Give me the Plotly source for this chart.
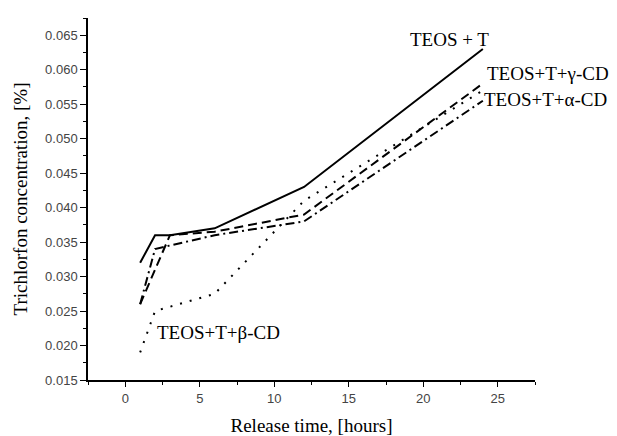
import plotly.graph_objects as go

# Release time, hours
hours_t = [1, 2, 3, 6, 12, 24]
hours_g = [1, 3, 6, 12, 24]
hours_a = [1, 2, 6, 12, 24]
hours_b = [1, 2, 6, 12, 24]

# Trichlorfon concentration, %
conc_teos_t = [0.032, 0.036, 0.036, 0.037, 0.043, 0.063]
conc_gamma = [0.026, 0.036, 0.0365, 0.039, 0.058]
conc_alpha = [0.026, 0.034, 0.036, 0.038, 0.0555]
conc_beta = [0.019, 0.025, 0.0275, 0.041, 0.057]

y_ticks = [0.015, 0.020, 0.025, 0.030, 0.035, 0.040, 0.045, 0.050, 0.055, 0.060, 0.065]
x_ticks = [0, 5, 10, 15, 20, 25]

serif = "Liberation Serif, Times New Roman, serif"
sans = "Liberation Sans, Arial, sans-serif"

fig = go.Figure()
fig.add_trace(go.Scatter(x=hours_t, y=conc_teos_t, mode="lines",
                         line=dict(color="black", width=2, dash="solid")))
fig.add_trace(go.Scatter(x=hours_g, y=conc_gamma, mode="lines",
                         line=dict(color="black", width=2, dash="9px,5px")))
fig.add_trace(go.Scatter(x=hours_a, y=conc_alpha, mode="lines",
                         line=dict(color="black", width=2, dash="9px,4px,2px,4px")))
fig.add_trace(go.Scatter(x=hours_b, y=conc_beta, mode="lines",
                         line=dict(color="black", width=2, dash="2px,8px")))

labels = [
    ("TEOS + T", 408, 40),
    ("TEOS+T+γ-CD", 485, 73),
    ("TEOS+T+α-CD", 482, 99),
    ("TEOS+T+β-CD", 155, 332),
]
for text, px, py in labels:
    fig.add_annotation(text=text, xref="paper", yref="paper",
                       x=(px - 88) / (617 - 88 - 82), y=1 - (py - 18) / (436 - 18 - 56),
                       xanchor="left", yanchor="middle", showarrow=False,
                       font=dict(family=serif, size=19, color="black"))

fig.update_xaxes(range=[-2.5, 27.5], tickvals=x_ticks, ticks="outside", ticklen=5,
                 tickwidth=1, tickcolor="black", showline=True, linecolor="black",
                 linewidth=1.5, showgrid=False, zeroline=False, ticklabelstandoff=1,
                 automargin=False,
                 minor=dict(ticks="outside", ticklen=3, tickcolor="black", dtick=2.5,
                            tick0=0, showgrid=False),
                 tickfont=dict(family=sans, size=13, color="#444"),
                 title=dict(text="Release time, [hours]", standoff=23,
                            font=dict(family=serif, size=19, color="black")))
fig.update_yaxes(range=[0.015, 0.0675], tickvals=y_ticks, tickformat=".3f",
                 ticks="outside", ticklen=6, tickwidth=1, tickcolor="black",
                 showline=True, linecolor="black", linewidth=1.5, showgrid=False,
                 zeroline=False, automargin=False,
                 minor=dict(ticks="outside", ticklen=3, tickcolor="black", dtick=0.0025,
                            tick0=0.015, showgrid=False),
                 tickfont=dict(family=sans, size=13, color="#444"),
                 title=dict(text="Trichlorfon concentration, [%]", standoff=12,
                            font=dict(family=serif, size=19, color="black")))

fig.update_layout(width=617, height=436, showlegend=False,
                  paper_bgcolor="white", plot_bgcolor="white",
                  margin=dict(l=88, r=82, t=18, b=56))

fig.write_html("out.html")
